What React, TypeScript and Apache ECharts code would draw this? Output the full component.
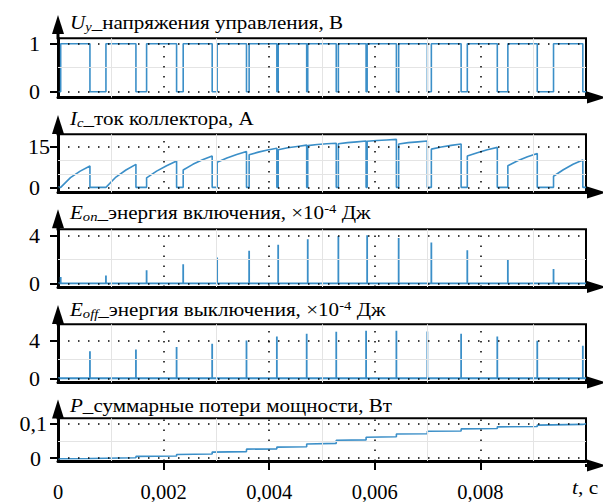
import { useEffect, useRef } from "react";
import * as echarts from "echarts";

// ---------- data (time in ms; the axis shows seconds) ----------
// control voltage U_y: rising and falling edges of each "on" interval
const uyRiseMs = [0.051, 0.908, 1.678, 2.371, 3.014, 3.62, 4.17, 4.73, 5.31, 5.855, 6.452, 7.071, 7.752, 8.52, 9.385];
const uyFallMs = [0.605, 1.476, 2.246, 2.92, 3.57, 4.145, 4.71, 5.27, 5.835, 6.409, 6.995, 7.635, 8.32, 9.077, 9.94];

// collector current I_c read at start, 1/3, 2/3 and end of every on-interval (A)
const icValues = [
  [0, 3.6, 6.0, 7.9],
  [0, 3.8, 6.4, 8.5],
  [3.5, 6.0, 8.0, 9.75],
  [6.4, 8.5, 10.2, 11.6],
  [9.25, 10.8, 12.1, 13.25],
  [12.0, 13.0, 13.8, 14.4],
  [13.9, 14.6, 15.1, 15.6],
  [15.4, 15.8, 16.1, 16.3],
  [16.1, 16.5, 16.8, 17.1],
  [17.0, 17.3, 17.5, 17.7],
  [16.0, 16.5, 16.8, 17.1],
  [14.1, 14.9, 15.5, 16.0],
  [11.55, 12.8, 13.9, 14.75],
  [8.0, 9.8, 11.3, 12.5],
  [4.1, 6.5, 8.5, 10.1],
];

// turn-on energy at each rising edge (x1e-4 J)
const eonValues = [0.53, 0.64, 1.08, 1.58, 2.14, 2.72, 3.22, 3.67, 3.94, 4.0, 3.78, 3.39, 2.75, 1.97, 1.2];
// turn-off energy at each falling edge (x1e-4 J)
const eoffValues = [2.87, 3.05, 3.33, 3.68, 4.03, 4.45, 4.74, 4.95, 5.05, 5.05, 4.98, 4.74, 4.45, 4.0, 3.47];

// cumulative losses P (W)
const pTimeMs = [0, 0.605, 0.605, 1.476, 1.476, 2.246, 2.246, 2.92, 2.92, 3.57, 3.57, 4.145, 4.145, 4.71, 4.71, 5.27, 5.27, 5.835, 5.835, 6.409, 6.409, 6.995, 6.995, 7.635, 7.635, 8.32, 8.32, 9.077, 9.077, 9.94, 10];
const pValue = [-0.002, -0.001, 0.0, 0.001, 0.005, 0.006, 0.0105, 0.012, 0.0175, 0.019, 0.026, 0.027, 0.032, 0.033, 0.041, 0.043, 0.052, 0.053, 0.0605, 0.062, 0.07, 0.071, 0.078, 0.079, 0.085, 0.086, 0.091, 0.092, 0.096, 0.098, 0.1];

// axes
const xMajorMs = [2, 4, 6, 8];
const xMinorMs = [1, 3, 5, 7, 9];
const xLabelMs = [0, 2, 4, 6, 8];
const yTickValues = [[0, 1], [0, 15], [0, 4], [0, 4], [0, 0.1]];
const yMinorValues = [[0.5], [5, 10], [2], [2], [0.05]];
const yMinValues = [-0.12, -1.9, -0.31, -0.45, -0.0084];
const yMaxValues = [1.1125, 19.58, 4.5, 5.74, 0.1158];
const titles = [
  "{i|U}{s|y}{n|_напряжения управления, В}",
  "{i|I}{s|c}{n|_ток коллектора, А}",
  "{i|E}{s|on}{n|_энергия включения, ×10}{p|-4}{n| Дж}",
  "{i|E}{s|off}{n|_энергия выключения, ×10}{p|-4}{n| Дж}",
  "{i|P}{n|_суммарные потери мощности, Вт}",
];

// ---------- layout ----------
const FONT = "Liberation Serif";
const BLUE = "#3b8fc8";
const LEFT = 58;
const WIDTH = 528;
const TOPS = [38.3, 134.3, 229.3, 324.3, 418.3];
const BOTTOMS = [97.5, 192.5, 287, 382.5, 465.5];
const ARROW_TIPS = [15, 115, 209.3, 305, 399.5];
const TITLE_BASE = [28.3, 124, 218.3, 315, 411.7];
const TITLE_SIZE = 19.5;

function buildSeriesData() {
  const uy: number[][] = [[0, 0]];
  const ic: number[][] = [[0, 0]];
  const eon: number[][] = [[0, 0]];
  const eoff: number[][] = [[0, 0]];
  uyRiseMs.forEach((r, k) => {
    const f = uyFallMs[k];
    uy.push([r, 0], [r, 1], [f, 1], [f, 0]);
    ic.push([r, 0]);
    icValues[k].forEach((v, j) => ic.push([r + ((f - r) * j) / 3, v]));
    ic.push([f, 0]);
    eon.push([r, 0], [r, eonValues[k]], [r, 0]);
    eoff.push([f, 0], [f, eoffValues[k]], [f, 0]);
  });
  uy.push([10, 0]);
  ic.push([10, 0]);
  eon.push([10, 0]);
  eoff.push([10, 0]);
  const p = pTimeMs.map((t, i) => [t, pValue[i]]);
  return [uy, ic, eon, eoff, p];
}

const dotted = { color: "#000", type: [1.5, 8.5] as number[], width: 1.5 };
const light = { color: "#e4e4e4", type: "solid" as const, width: 1 };

const richTitle = {
  i: { fontFamily: FONT, fontSize: TITLE_SIZE, fontStyle: "italic", fill: "#000", lineHeight: 22 },
  n: { fontFamily: FONT, fontSize: TITLE_SIZE, fontStyle: "normal", fill: "#000", lineHeight: 22 },
  s: { fontFamily: FONT, fontSize: 13.5, fontStyle: "italic", fill: "#000", lineHeight: 13, verticalAlign: "bottom" },
  p: { fontFamily: FONT, fontSize: 13.5, fontStyle: "normal", fill: "#000", lineHeight: 13, verticalAlign: "top" },
};

export default function App() {
  const ref = useRef<HTMLDivElement>(null);
  useEffect(() => {
    if (!ref.current) return;
    const chart = echarts.init(ref.current, undefined, { renderer: "svg" });
    const data = buildSeriesData();
    const grids: any[] = [];
    const xAxes: any[] = [];
    const yAxes: any[] = [];
    const series: any[] = [];
    const graphic: any[] = [];
    for (let i = 0; i < 5; i++) {
      const last = i === 4;
      grids.push({
        left: LEFT,
        width: WIDTH,
        top: TOPS[i],
        height: BOTTOMS[i] - TOPS[i],
        show: true,
        borderColor: "#000",
        borderWidth: 2,
        backgroundColor: "#fff",
      });
      xAxes.push({
        type: "value",
        gridIndex: i,
        min: 0,
        max: 10,
        interval: 2,
        axisLine: { show: true, onZero: false, lineStyle: { color: "#000", width: 3 } },
        axisTick: last
          ? { show: true, customValues: xMajorMs, length: 9, lineStyle: { color: "#000", width: 2 } }
          : { show: false },
        axisLabel: last
          ? {
              show: true,
              customValues: xLabelMs,
              margin: 20,
              color: "#000",
              fontFamily: FONT,
              fontSize: 20.5,
              formatter: (v: number) => (v === 0 ? "0" : (v / 1000).toFixed(3).replace(".", ",")),
            }
          : { show: false },
        splitLine: { show: false },
      });
      const yt = yTickValues[i];
      const padZero = i === 1 ? 10 : i === 4 ? 6 : 0;
      const marg = i === 1 ? 8 : i === 4 ? 11 : 18;
      yAxes.push({
        type: "value",
        gridIndex: i,
        min: yMinValues[i],
        max: yMaxValues[i],
        axisLine: { show: true, onZero: false, lineStyle: { color: "#000", width: 3 } },
        axisTick: { show: true, customValues: yt, length: 8, lineStyle: { color: "#000", width: 2 } },
        axisLabel: {
          show: true,
          customValues: yt,
          margin: marg,
          color: "#000",
          fontFamily: FONT,
          fontSize: 22,
          formatter: (v: number) =>
            v === 0 ? "{z|0}" : "{a|" + String(v).replace(".", ",") + "}",
          rich: {
            z: { fontFamily: FONT, fontSize: 22, color: "#000", padding: [0, padZero, 0, 0] },
            a: { fontFamily: FONT, fontSize: 22, color: "#000" },
          },
        },
        splitLine: { show: false },
      });
      // light minor grid (under the signal)
      series.push({
        type: "line",
        xAxisIndex: i,
        yAxisIndex: i,
        data: [],
        silent: true,
        z: 1,
        markLine: {
          silent: true,
          symbol: "none",
          label: { show: false },
          data: [
            ...yMinorValues[i].map((v) => ({ yAxis: v, lineStyle: light })),
            ...xMinorMs.map((v) => ({ xAxis: v, lineStyle: light })),
          ],
        },
      });
      // signal with dotted major grid on top
      series.push({
        type: "line",
        xAxisIndex: i,
        yAxisIndex: i,
        data: data[i],
        showSymbol: false,
        symbol: "none",
        z: 3,
        lineStyle: { color: BLUE, width: i === 2 || i === 3 ? 1.8 : 1.6 },
        markLine: {
          silent: true,
          symbol: "none",
          label: { show: false },
          data: [
            ...yt.map((v) => ({ yAxis: v, lineStyle: dotted })),
            ...xMajorMs.map((v) => ({ xAxis: v, lineStyle: dotted })),
          ],
        },
      });
      // arrows
      const tip = ARROW_TIPS[i];
      graphic.push({
        type: "line",
        shape: { x1: LEFT, y1: tip + 18, x2: LEFT, y2: TOPS[i] + 1 },
        style: { stroke: "#000", lineWidth: 3 },
        z: 100,
      });
      graphic.push({
        type: "polygon",
        shape: { points: [[LEFT, tip], [LEFT - 6, tip + 19], [LEFT + 6, tip + 19]] },
        style: { fill: "#000" },
        z: 100,
      });
      const by = BOTTOMS[i];
      graphic.push({
        type: "line",
        shape: { x1: LEFT + WIDTH - 1, y1: by, x2: LEFT + WIDTH + 3, y2: by },
        style: { stroke: "#000", lineWidth: 3 },
        z: 100,
      });
      graphic.push({
        type: "polygon",
        shape: { points: [[LEFT + WIDTH + 20, by], [LEFT + WIDTH + 1, by - 6], [LEFT + WIDTH + 1, by + 6]] },
        style: { fill: "#000" },
        z: 100,
      });
      // title
      graphic.push({
        type: "text",
        x: 70,
        y: TITLE_BASE[i] - 17,
        scaleX: 1.08,
        z: 100,
        style: {
          text: titles[i],
          verticalAlign: "top",
          align: "left",
          fontFamily: FONT,
          fontSize: TITLE_SIZE,
          rich: richTitle,
        },
      });
    }
    graphic.push({
      type: "text",
      x: 572,
      y: 476,
      scaleX: 1.1,
      z: 100,
      style: {
        text: "{i|t}{n|, с}",
        verticalAlign: "top",
        fontFamily: FONT,
        fontSize: TITLE_SIZE,
        rich: richTitle,
      },
    });

    chart.setOption({
      animation: false,
      backgroundColor: "#fff",
      textStyle: { fontFamily: FONT },
      grid: grids,
      xAxis: xAxes,
      yAxis: yAxes,
      series,
      graphic,
    });
    return () => chart.dispose();
  }, []);
  return (
    <div
      ref={ref}
      style={{ position: "absolute", left: 0, top: 0, width: 603, height: 502 }}
    />
  );
}
